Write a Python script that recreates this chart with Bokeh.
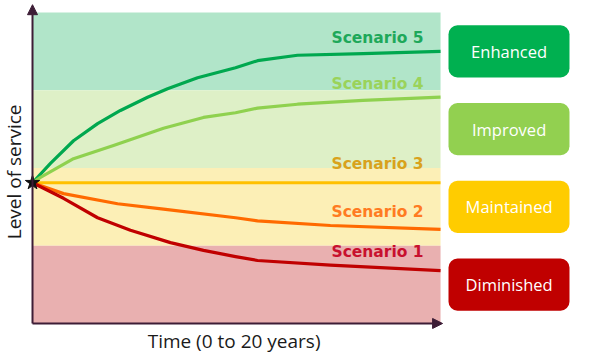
from bokeh.plotting import figure
from bokeh.models import Arrow, NormalHead
from bokeh.core.properties import value
from bokeh.embed import file_html
from bokeh.resources import INLINE

# ---- data (time in years, level of service in band units 0-4) ----
years_s5 = [0, 0.88, 2.01, 3.19, 4.31, 5.64, 6.62, 8.09, 9.95, 11.03, 12.99, 16.2, 20]
level_s5 = [1.81, 2.06, 2.35, 2.57, 2.74, 2.91, 3.02, 3.16, 3.29, 3.38, 3.45, 3.47, 3.50]
years_s4 = [0, 0.39, 2.01, 3.97, 6.42, 8.38, 9.95, 11.03, 12.99, 16.2, 20]
level_s4 = [1.81, 1.88, 2.12, 2.29, 2.51, 2.65, 2.71, 2.77, 2.82, 2.87, 2.91]
years_s3 = [0, 20]
level_s3 = [1.81, 1.81]
years_s2 = [0, 1.52, 4.17, 6.42, 9.95, 11.03, 14.6, 20]
level_s2 = [1.81, 1.67, 1.54, 1.47, 1.36, 1.32, 1.26, 1.21]
years_s1 = [0, 1.52, 3.19, 4.80, 6.76, 8.38, 9.95, 11.03, 14.6, 20]
level_s1 = [1.81, 1.61, 1.36, 1.20, 1.04, 0.94, 0.86, 0.81, 0.75, 0.68]

scenario_names = ["Scenario 5", "Scenario 4", "Scenario 3", "Scenario 2", "Scenario 1"]
scenario_label_y = [3.67, 3.08, 2.045, 1.44, 0.92]
band_names = ["Enhanced", "Improved", "Maintained", "Diminished"]
band_bottom = [3, 2, 1, 0]
band_top = [4, 3, 2, 1]

# ---- styles ----
line_colors = ["#00a84f", "#8fd14f", "#ffc000", "#ff6a00", "#c00000"]
label_colors = ["#1ea85a", "#9ad35a", "#d9a21c", "#ff7b22", "#c8102e"]
band_fill = ["#b1e5c9", "#def0c7", "#fcefb6", "#e9b0b0"]
box_fill = ["#00b050", "#92d050", "#ffcc00", "#c00000"]
axis_color = "#3d1d36"

p = figure(width=600, height=354, output_backend="svg", toolbar_location=None,
           x_range=(-1.569, 27.84), y_range=(-0.399, 4.154), min_border=0)
p.axis.visible = False
p.grid.visible = False
p.outline_line_color = None
p.background_fill_color = "white"

# bands
p.quad(left=0, right=20, bottom=band_bottom, top=band_top, fill_color=band_fill,
       line_color=None)

# scenario lines
series = [(years_s5, level_s5), (years_s4, level_s4), (years_s3, level_s3),
          (years_s2, level_s2), (years_s1, level_s1)]
for (xs, ys), c in zip(series, line_colors):
    p.line(xs, ys, line_color=c, line_width=3.2, line_join="round")

# scenario labels
p.text(x=[19.17] * 5, y=scenario_label_y, text=scenario_names, text_color=label_colors,
       text_align="right", text_baseline="middle", text_font=value("DejaVu Sans"),
       text_font_style="bold", text_font_size="15.5px")

# axes with arrows
p.add_layout(Arrow(end=NormalHead(size=10, fill_color=axis_color, line_color=axis_color),
                   x_start=0, y_start=0, x_end=0, y_end=4.1,
                   line_color=axis_color, line_width=2))
p.add_layout(Arrow(end=NormalHead(size=10, fill_color=axis_color, line_color=axis_color),
                   x_start=0, y_start=0, x_end=20.1, y_end=0,
                   line_color=axis_color, line_width=2))

# start star
p.scatter([0], [1.81], marker="star", size=15, fill_color="#111111", line_color="#111111")

# category boxes
box_mid = [(b + t) / 2 for b, t in zip(band_bottom, band_top)]
p.quad(left=20.39, right=26.32, bottom=[m - 0.335 for m in box_mid],
       top=[m + 0.335 for m in box_mid], fill_color=box_fill, line_color=None,
       border_radius=9)
p.text(x=[23.36] * 4, y=box_mid, text=band_names, text_color="white",
       text_align="center", text_baseline="middle", text_font=value("Open Sans"),
       text_font_size="16.5px")

# axis titles
p.text(x=[-0.9], y=[1.95], text=["Level of service"], angle=1.5708,
       text_align="center", text_baseline="middle", text_font=value("Open Sans"),
       text_font_size="19px", text_color="#1a1a1a")
p.text(x=[9.88], y=[-0.23], text=["Time (0 to 20 years)"],
       text_align="center", text_baseline="middle", text_font=value("Open Sans"),
       text_font_size="19px", text_color="#1a1a1a")

open("out.html", "w").write(file_html(p, INLINE))
